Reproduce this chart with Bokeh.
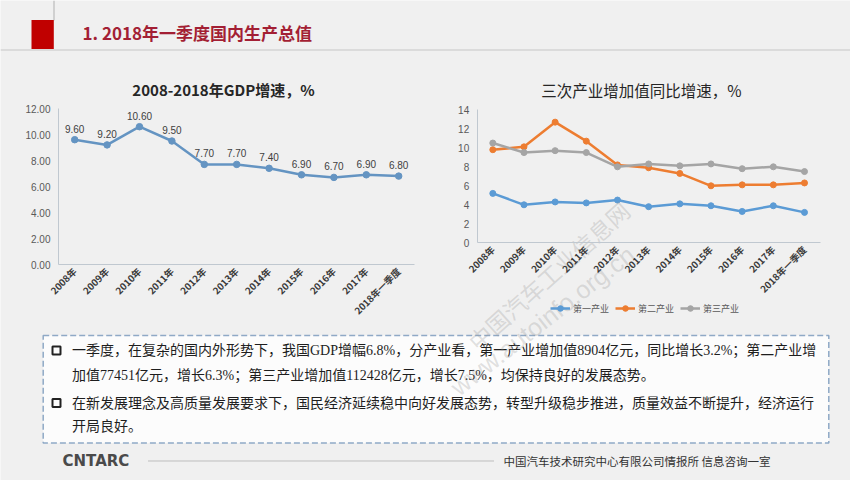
import math
from bokeh.plotting import figure
from bokeh.models import (Range1d, LinearAxis, FixedTicker, NumeralTickFormatter,
                          Legend, LegendItem)
from bokeh.core.properties import value
from bokeh.embed import file_html
from bokeh.resources import INLINE

W, H = 850, 480

# ---------------- data ----------------
categories = ["2008年", "2009年", "2010年", "2011年", "2012年", "2013年",
              "2014年", "2015年", "2016年", "2017年", "2018年一季度"]
gdp_growth = [9.6, 9.2, 10.6, 9.5, 7.7, 7.7, 7.4, 6.9, 6.7, 6.9, 6.8]
primary_growth = [5.2, 4.0, 4.3, 4.2, 4.5, 3.8, 4.1, 3.9, 3.3, 3.9, 3.2]
secondary_growth = [9.8, 10.1, 12.7, 10.7, 8.2, 7.9, 7.3, 6.0, 6.1, 6.1, 6.3]
tertiary_growth = [10.5, 9.5, 9.7, 9.5, 8.0, 8.3, 8.1, 8.3, 7.8, 8.0, 7.5]
series_names = ["第一产业", "第二产业", "第三产业"]
gdp_ticks = [0, 2, 4, 6, 8, 10, 12]
industry_ticks = [0, 2, 4, 6, 8, 10, 12, 14]

page_title = "1. 2018年一季度国内生产总值"
gdp_title = "2008-2018年GDP增速，%"
industry_title = "三次产业增加值同比增速，%"
box_lines = [
    "一季度，在复杂的国内外形势下，我国GDP增幅6.8%，分产业看，第一产业增加值8904亿元，同比增长3.2%；第二产业增",
    "加值77451亿元，增长6.3%；第三产业增加值112428亿元，增长7.5%，均保持良好的发展态势。",
    "在新发展理念及高质量发展要求下，国民经济延续稳中向好发展态势，转型升级稳步推进，质量效益不断提升，经济运行",
    "开局良好。",
]
footer_logo = "CNTARC"
footer_text = "中国汽车技术研究中心有限公司情报所  信息咨询一室"
watermark_cn = "中国汽车工业信息网"
watermark_url = "www.autoinfo.org.cn"

xs = list(range(len(categories)))

# ---------------- helpers (pixel layout) ----------------
def x_range_for(px_first, px_step):
    return Range1d(start=-px_first / px_step, end=(W - px_first) / px_step)

def y_range_for(px_zero, px_per_unit):
    return Range1d(start=(px_zero - H) / px_per_unit, end=px_zero / px_per_unit)

BG = "#f0f0f0"
CJK = "Noto Sans CJK SC"

p = figure(width=W, height=H, x_range=Range1d(0, W), y_range=Range1d(H, 0),
           x_axis_type=None, y_axis_type=None, toolbar_location=None,
           output_backend="svg", min_border=0,
           background_fill_color=BG, border_fill_color=BG, outline_line_color=None)

p.extra_x_ranges = {"gx": x_range_for(74.2, 32.4), "ix": x_range_for(492.3, 31.17)}
p.extra_y_ranges = {"gy": y_range_for(264.0, 13.0), "iy": y_range_for(242.3, 9.5)}

# ---------------- header ----------------
p.segment(x0=[53.5], y0=[0], x1=[53.5], y1=[20], line_color="#b0b0b0", line_width=1)
p.quad(left=[31], right=[53.3], top=[19.5], bottom=[48.5], fill_color="#c00000", line_color=None)
p.segment(x0=[0], y0=[49.5], x1=[W], y1=[49.5], line_color="#d4d4d4", line_width=1.5)
p.text(x=[82], y=[32], text=[page_title], text_font=value(CJK), text_font_style="bold",
       text_font_size="17px", text_color="#a31f34", text_align="left", text_baseline="middle")

# ---------------- chart titles ----------------
p.text(x=[223], y=[89], text=[gdp_title], text_font=value(CJK), text_font_style="bold",
       text_font_size="15px", text_color="#262626", text_align="center", text_baseline="middle")
p.text(x=[641], y=[89], text=[industry_title], text_font=value(CJK),
       text_font_size="15.5px", text_color="#262626", text_align="center", text_baseline="middle")

# ---------------- axes ----------------
def style_axis(ax, font, size, color, bold=False):
    ax.axis_line_color = "#c0c8d0"
    ax.axis_line_width = 1
    ax.major_tick_line_color = None
    ax.minor_tick_line_color = None
    ax.major_tick_out = 0
    ax.major_tick_in = 0
    ax.minor_tick_out = 0
    ax.minor_tick_in = 0
    ax.major_label_text_font = font
    ax.major_label_text_font_size = size
    ax.major_label_text_color = color
    if bold:
        ax.major_label_text_font_style = "bold"

overrides = {i: c for i, c in enumerate(categories)}

g_yaxis = LinearAxis(x_range_name="gx", y_range_name="gy", fixed_location=-0.5, bounds=(0, 12),
                     ticker=FixedTicker(ticks=gdp_ticks), formatter=NumeralTickFormatter(format="0.00"),
                     major_label_standoff=8)
style_axis(g_yaxis, "Liberation Sans", "10px", "#595959")
p.add_layout(g_yaxis, "left")

g_xaxis = LinearAxis(x_range_name="gx", y_range_name="gy", fixed_location=0, bounds=(-0.5, 10.5),
                     ticker=FixedTicker(ticks=xs), major_label_overrides=overrides,
                     major_label_orientation=math.pi / 4, major_label_standoff=5)
style_axis(g_xaxis, CJK, "9.5px", "#3a3a3a", bold=True)
p.add_layout(g_xaxis, "below")

i_yaxis = LinearAxis(x_range_name="ix", y_range_name="iy", fixed_location=-0.5, bounds=(0, 14),
                     ticker=FixedTicker(ticks=industry_ticks), formatter=NumeralTickFormatter(format="0"),
                     major_label_standoff=8)
style_axis(i_yaxis, "Liberation Sans", "10px", "#595959")
p.add_layout(i_yaxis, "left")

i_xaxis = LinearAxis(x_range_name="ix", y_range_name="iy", fixed_location=0, bounds=(-0.5, 10.5),
                     ticker=FixedTicker(ticks=xs), major_label_overrides=overrides,
                     major_label_orientation=math.pi / 4, major_label_standoff=5)
style_axis(i_xaxis, CJK, "9.5px", "#3a3a3a", bold=True)
p.add_layout(i_xaxis, "below")

# ---------------- GDP line ----------------
gdp_color = "#6494c2"
p.line(xs, gdp_growth, x_range_name="gx", y_range_name="gy", line_color=gdp_color, line_width=2.5)
p.scatter(xs, gdp_growth, x_range_name="gx", y_range_name="gy", size=6.5,
          fill_color=gdp_color, line_color=gdp_color)
p.text(x=xs, y=gdp_growth, text=[f"{v:.2f}" for v in gdp_growth], x_range_name="gx", y_range_name="gy",
       y_offset=-11, text_font=value("Liberation Sans"), text_font_size="10px", text_color="#404040",
       text_align="center", text_baseline="middle")

# ---------------- industry lines ----------------
colors = ["#5b9bd5", "#ed7d31", "#a5a5a5"]
items = []
for name, vals, col in zip(series_names, [primary_growth, secondary_growth, tertiary_growth], colors):
    lr = p.line(xs, vals, x_range_name="ix", y_range_name="iy", line_color=col, line_width=2.5)
    sr = p.scatter(xs, vals, x_range_name="ix", y_range_name="iy", size=6,
                   fill_color=col, line_color=col)
    items.append(LegendItem(label=name, renderers=[lr, sr]))

legend = Legend(items=items, location=(550, 165), orientation="horizontal",
                background_fill_alpha=0, border_line_color=None, padding=0, margin=0,
                spacing=6, label_standoff=3, glyph_width=20, glyph_height=14,
                label_height=14, label_text_font=CJK, label_text_font_size="9px",
                label_text_color="#595959")
p.add_layout(legend)

# ---------------- text box ----------------
p.quad(left=[42.7], right=[828.3], top=[335], bottom=[442.5], fill_color="#fcfcfc",
       line_color="#8fa9c6", line_dash="6 3", line_width=1.5)
p.scatter(x=[56, 56], y=[350, 402.5], marker="square", size=8, fill_color=None,
          line_color="#222222", line_width=2)
p.text(x=[71.5] * 4, y=[350, 374.5, 402.5, 425.5], text=box_lines,
       text_font=value("'Liberation Serif', 'Noto Sans CJK SC'"), text_font_size="14px",
       text_color="#1e1e1e", text_align="left", text_baseline="middle")

# ---------------- footer ----------------
p.text(x=[62], y=[460], text=[footer_logo], text_font=value("DejaVu Sans"), text_font_style="bold",
       text_font_size="15px", text_color="#4a4a4a", text_align="left", text_baseline="middle")
p.segment(x0=[148], y0=[460.5], x1=[494], y1=[460.5], line_color="#8a8a8a", line_width=1,
          line_dash="1 1")
p.text(x=[503], y=[460], text=[footer_text], text_font=value(CJK), text_font_size="11.5px",
       text_color="#333333", text_align="left", text_baseline="middle")

# ---------------- watermark ----------------
p.text(x=[548], y=[275], text=[watermark_cn], angle=math.radians(42), text_font=value(CJK),
       text_font_size="23px", text_color="#9a9a9a", text_alpha=0.3,
       text_align="center", text_baseline="middle")
p.text(x=[542], y=[320], text=[watermark_url], angle=math.radians(38), text_font=value("Liberation Sans"),
       text_font_size="25px", text_color="#9a9a9a", text_alpha=0.3,
       text_align="center", text_baseline="middle")

open("out.html", "w").write(file_html(p, INLINE))
